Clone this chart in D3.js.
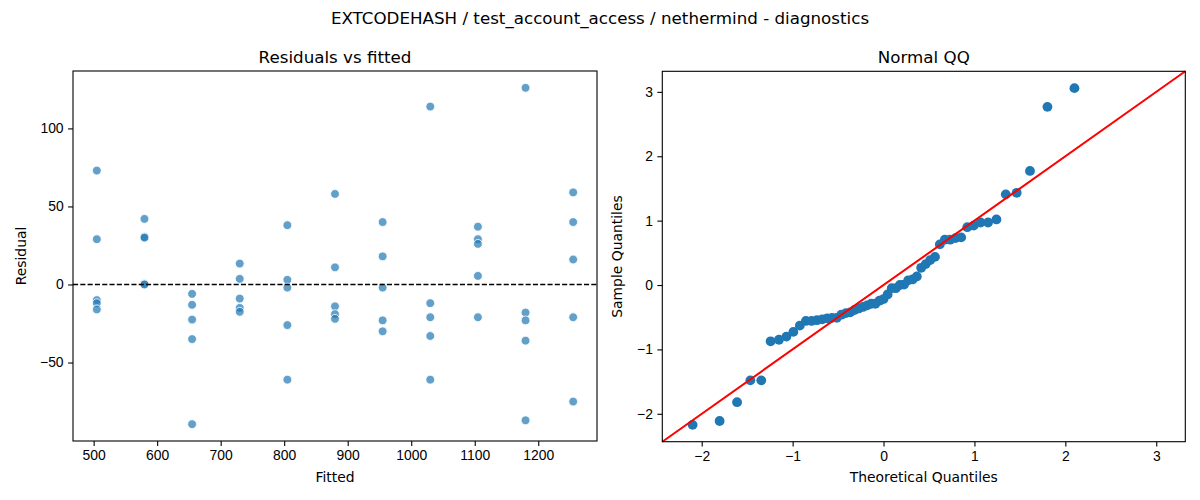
<!DOCTYPE html>
<html>
<head>
<meta charset="utf-8">
<script src="https://cdn.jsdelivr.net/npm/d3@7"></script>
<style>
  body { margin: 0; background: #fff; }
  svg { font-family: "DejaVu Sans", sans-serif; }
  .tick text { font-size: 13.9px; fill: #000; }
  .tick line { stroke: #000; stroke-width: 1.1; }
</style>
</head>
<body>
<div id="chart"></div>
<script>
// fitted levels (x of the residual plot) and the residuals seen at each level
const fittedLevels = [505, 580, 655, 730, 805, 880, 955, 1030, 1105, 1180, 1255];
const residualsByLevel = [
  [73, 29, -10, -12, -16],
  [42, 30.5, 30, 0.3, 0],
  [-6, -13, -22.5, -35, -89.5],
  [13.4, 3.6, -9, -15, -17.5],
  [38, 3, -2, -26, -61],
  [58, 11, -14, -19, -22],
  [40, 18, -2, -23, -30],
  [114, -12, -21, -33, -61],
  [37, 29, 26, 5.5, -21],
  [126, -18, -23, -36, -87],
  [59, 40, 16, -21, -75]
];

// normal QQ points
const qqTheoretical = [-2.100, -1.803, -1.611, -1.465, -1.345, -1.242, -1.150, -1.068, -0.992, -0.921,
  -0.854, -0.792, -0.732, -0.674, -0.619, -0.566, -0.514, -0.464, -0.414, -0.366,
  -0.319, -0.272, -0.226, -0.180, -0.135, -0.090, -0.045, 0.000, 0.045, 0.090,
  0.135, 0.180, 0.226, 0.272, 0.319, 0.366, 0.414, 0.464, 0.514, 0.566,
  0.619, 0.674, 0.732, 0.792, 0.854, 0.921, 0.992, 1.068, 1.150, 1.242,
  1.345, 1.465, 1.611, 1.803, 2.100];
const qqSample = [-2.172, -2.112, -1.820, -1.481, -1.481, -0.874, -0.850, -0.801, -0.728, -0.631,
  -0.558, -0.558, -0.546, -0.534, -0.517, -0.510, -0.510, -0.461, -0.437, -0.425,
  -0.388, -0.364, -0.340, -0.316, -0.291, -0.291, -0.243, -0.218, -0.146, -0.049,
  -0.049, 0.000, 0.007, 0.073, 0.087, 0.133, 0.267, 0.325, 0.388, 0.437,
  0.631, 0.704, 0.704, 0.728, 0.740, 0.898, 0.922, 0.971, 0.971, 1.019,
  1.408, 1.432, 1.772, 2.767, 3.058];

const residTicksX = [500, 600, 700, 800, 900, 1000, 1100, 1200];
const residTicksY = [-50, 0, 50, 100];
const qqTicks = [-2, -1, 0, 1, 2, 3];

const W = 1200, H = 500;
const fmt = d3.format("d");
const svg = d3.select("#chart").append("svg")
  .attr("width", W).attr("height", H);

svg.append("text")
  .attr("x", 600).attr("y", 24)
  .attr("text-anchor", "middle")
  .style("font-size", "16.7px")
  .text("EXTCODEHASH / test_account_access / nethermind - diagnostics");

function pad(ext) {
  const r = ext[1] - ext[0];
  return [ext[0] - 0.05 * r, ext[1] + 0.05 * r];
}

function drawFrame(g, box, x, y, xt, yt, title, xlab, ylab) {
  g.append("g")
    .attr("transform", "translate(0," + box.b + ")")
    .call(d3.axisBottom(x).tickValues(xt).tickFormat(fmt).tickSize(4.9).tickPadding(4.5))
    .call(a => a.select(".domain").remove());
  g.append("g")
    .attr("transform", "translate(" + box.l + ",0)")
    .call(d3.axisLeft(y).tickValues(yt).tickFormat(fmt).tickSize(4.9).tickPadding(4.5))
    .call(a => a.select(".domain").remove());

  g.append("text")
    .attr("x", (box.l + box.r) / 2).attr("y", 62.5)
    .attr("text-anchor", "middle")
    .style("font-size", "16.7px")
    .text(title);
  g.append("text")
    .attr("x", (box.l + box.r) / 2).attr("y", 482)
    .attr("text-anchor", "middle")
    .style("font-size", "13.9px")
    .text(xlab);
  g.append("text")
    .attr("transform", "translate(" + box.yl + "," + (box.t + box.b) / 2 + ") rotate(-90)")
    .attr("text-anchor", "middle")
    .style("font-size", "13.9px")
    .text(ylab);
}

function frameBorder(g, box) {
  g.append("rect")
    .attr("x", box.l).attr("y", box.t)
    .attr("width", box.r - box.l).attr("height", box.b - box.t)
    .attr("fill", "none").attr("stroke", "#000").attr("stroke-width", 1.1);
}

// ---- residuals vs fitted
const points = [];
fittedLevels.forEach((f, i) => residualsByLevel[i].forEach(r => points.push({ f: f, r: r })));

const b1 = { l: 73, r: 597, t: 71, b: 441, yl: 26 };
const x1 = d3.scaleLinear().domain(pad(d3.extent(fittedLevels))).range([b1.l, b1.r]);
const y1 = d3.scaleLinear().domain(pad(d3.extent(points, d => d.r))).range([b1.b, b1.t]);
const g1 = svg.append("g");
drawFrame(g1, b1, x1, y1, residTicksX, residTicksY, "Residuals vs fitted", "Fitted", "Residual");

g1.append("g").selectAll("circle")
  .data(points)
  .enter().append("circle")
    .attr("cx", d => x1(d.f))
    .attr("cy", d => y1(d.r))
    .attr("r", 4.4)
    .attr("fill", "#1f77b4")
    .attr("fill-opacity", 0.7)
    .attr("stroke", "#fff")
    .attr("stroke-width", 0.8);

g1.append("line")
  .attr("x1", b1.l).attr("x2", b1.r)
  .attr("y1", y1(0)).attr("y2", y1(0))
  .attr("stroke", "#000").attr("stroke-width", 1.3)
  .attr("stroke-dasharray", "5.1,2.2");
frameBorder(g1, b1);

// ---- normal QQ
const b2 = { l: 662.3, r: 1185.3, t: 71.3, b: 441.7, yl: 622 };
const qqDom = pad(d3.extent(qqSample));
const x2 = d3.scaleLinear().domain(qqDom).range([b2.l, b2.r]);
const y2 = d3.scaleLinear().domain(qqDom).range([b2.b, b2.t]);
const g2 = svg.append("g");
drawFrame(g2, b2, x2, y2, qqTicks, qqTicks, "Normal QQ", "Theoretical Quantiles", "Sample Quantiles");

g2.append("g").selectAll("circle")
  .data(qqTheoretical)
  .enter().append("circle")
    .attr("cx", d => x2(d))
    .attr("cy", (d, i) => y2(qqSample[i]))
    .attr("r", 4.9)
    .attr("fill", "#1f77b4");

g2.append("line")
  .attr("x1", x2(qqDom[0])).attr("y1", y2(qqDom[0]))
  .attr("x2", x2(qqDom[1])).attr("y2", y2(qqDom[1]))
  .attr("stroke", "#ff0000").attr("stroke-width", 2);
frameBorder(g2, b2);
</script>
</body>
</html>
